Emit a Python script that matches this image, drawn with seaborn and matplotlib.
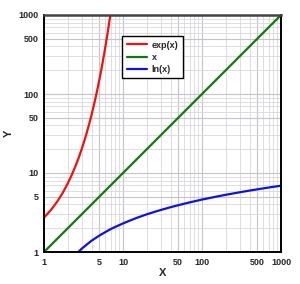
import matplotlib
matplotlib.use("Agg")
import matplotlib.pyplot as plt
import seaborn as sns
import pandas as pd
from matplotlib.ticker import FixedLocator, FixedFormatter, LogLocator, NullFormatter

sns.set_theme(style="white")
plt.rcParams['font.family'] = ['Liberation Sans', 'DejaVu Sans']

exp_x = [1.0, 1.25, 1.5, 1.75, 2.0, 2.25, 2.5, 2.75, 3.0, 3.25, 3.5, 3.75, 4.0, 4.25,
         4.5, 4.75, 5.0, 5.25, 5.5, 5.75, 6.0, 6.25, 6.5, 6.75, 6.91]
exp_y = [2.72, 3.49, 4.48, 5.75, 7.39, 9.49, 12.2, 15.6, 20.1, 25.8, 33.1, 42.5, 54.6, 70.1,
         90.0, 115.6, 148.4, 190.6, 244.7, 314.2, 403.4, 518.0, 665.1, 854.1, 1000.0]
lin_x = [1, 1000]
lin_y = [1, 1000]
ln_x = [2.72, 3, 3.5, 4, 5, 6, 7, 8, 10, 12, 15, 20, 25, 30, 40, 50, 70, 100, 150, 200,
        300, 400, 500, 700, 1000]
ln_y = [1.0, 1.10, 1.25, 1.39, 1.61, 1.79, 1.95, 2.08, 2.30, 2.48, 2.71, 3.00, 3.22, 3.40,
        3.69, 3.91, 4.25, 4.61, 5.01, 5.30, 5.70, 5.99, 6.21, 6.55, 6.91]
series_names = ["exp(x)", "x", "ln(x)"]
series_colors = ["#ee1111", "#117711", "#1111dd"]
tick_vals = [1, 5, 10, 50, 100, 500, 1000]
tick_labels = ["1", "5", "10", "50", "100", "500", "1000"]

df = pd.concat([
    pd.DataFrame({"X": exp_x, "Y": exp_y, "s": series_names[0]}),
    pd.DataFrame({"X": lin_x, "Y": lin_y, "s": series_names[1]}),
    pd.DataFrame({"X": ln_x, "Y": ln_y, "s": series_names[2]}),
], ignore_index=True)

fig = plt.figure(figsize=(3.0, 2.84), dpi=100)
ax = fig.add_axes([44/300, 32/284, 237/300, 237/284])
ax.set_xscale("log")
ax.set_yscale("log")
ax.set_xlim(1, 1000)
ax.set_ylim(1, 1000)

sns.lineplot(data=df, x="X", y="Y", hue="s", palette=dict(zip(series_names, series_colors)),
             sort=False, linewidth=1.6, ax=ax, legend=True)

for axis in (ax.xaxis, ax.yaxis):
    axis.set_major_locator(FixedLocator(tick_vals))
    axis.set_major_formatter(FixedFormatter(tick_labels))
    axis.set_minor_locator(LogLocator(base=10, subs=range(2, 10)))
    axis.set_minor_formatter(NullFormatter())

ax.grid(True, which="major", color="#c4c4c8", linewidth=0.8)
ax.grid(True, which="minor", color="#d8d8dc", linewidth=0.6)
ax.set_axisbelow(True)

ax.tick_params(which="both", length=0, pad=4, labelsize=6.5)
for lbl in ax.get_xticklabels() + ax.get_yticklabels():
    lbl.set_fontweight("bold")

for side in ["left", "bottom", "right"]:
    ax.spines[side].set_color("black")
    ax.spines[side].set_linewidth(1.4)
ax.spines["top"].set_color("#444444")
ax.spines["top"].set_linewidth(1.8)

ax.set_xlabel("X", fontsize=8, fontweight="bold")
ax.set_ylabel("Y", fontsize=8, fontweight="bold")
ax.xaxis.set_label_coords(0.5, -16/237)
ax.yaxis.set_label_coords(-30/237, 0.5)

leg = ax.legend(loc="upper left", bbox_to_anchor=(78/237, 1 - 21/237), fontsize=6.5,
                frameon=True, fancybox=False, edgecolor="black", framealpha=1,
                handlelength=2.3, handletextpad=0.5, borderpad=0.5, labelspacing=0.35,
                borderaxespad=0)
leg.get_frame().set_linewidth(1.0)
for t in leg.get_texts():
    t.set_fontweight("bold")

fig.savefig("out.png", dpi=100)
